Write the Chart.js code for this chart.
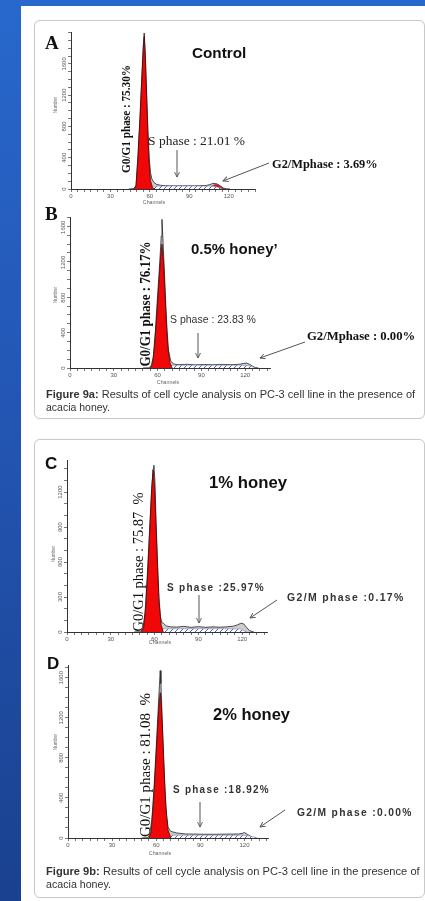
<!DOCTYPE html>
<html>
<head>
<meta charset="utf-8">
<script src="https://cdn.jsdelivr.net/npm/chart.js@4.4.1/dist/chart.umd.min.js"></script>
<style>
  html, body { margin: 0; padding: 0; }
  body {
    width: 425px; height: 901px; overflow: hidden; position: relative;
    background: linear-gradient(to bottom, #2868cc 0%, #2356b4 45%, #1a418f 100%);
    font-family: "Liberation Sans", Arial, sans-serif;
  }
  .sheet { position: absolute; left: 21px; top: 6px; right: 0; bottom: 0; background: #fff; }
  .card { position: absolute; left: 34px; width: 389px; border: 1px solid #c9c9c9; border-radius: 6px; box-shadow: 0 0 1px rgba(0,0,0,.15); }
  canvas { position: absolute; }
  svg { position: absolute; left: 0; top: 0; }
  .t { position: absolute; white-space: nowrap; line-height: 1; color: #111; transform-origin: 0 50%; }
  .t.rot { transform-origin: 50% 50%; }
  .serif { font-family: "Liberation Serif", "Times New Roman", serif; }
  .tiny { font-size: 6px; color: #666; }
  .cap { font-size: 10px; color: #333; }
  .sp { font-weight: bold; font-size: 10px; color: #333; letter-spacing: 1.3px; }
</style>
</head>
<body>
<div class="sheet"></div>
<div class="card" style="top:20px;height:397px"></div>
<div class="card" style="top:439px;height:457px"></div>

<canvas id="chA"></canvas>
<canvas id="chB"></canvas>
<canvas id="chC"></canvas>
<canvas id="chD"></canvas>

<svg width="425" height="901">
  <defs>
    <marker id="ah" viewBox="0 0 8 8" refX="7" refY="4" markerWidth="6" markerHeight="6" orient="auto">
      <path d="M0,0.5 L7,4 L0,7.5" fill="none" stroke="#555" stroke-width="1.2"/>
    </marker>
  </defs>
  <g stroke="#555" stroke-width="1">
    <line x1="177" y1="150" x2="177" y2="177" marker-end="url(#ah)"/>
    <line x1="269" y1="163" x2="223" y2="181" marker-end="url(#ah)"/>
    <line x1="198" y1="333" x2="198" y2="358" marker-end="url(#ah)"/>
    <line x1="305" y1="342" x2="260" y2="358" marker-end="url(#ah)"/>
    <line x1="199" y1="595" x2="199" y2="623" marker-end="url(#ah)"/>
    <line x1="277" y1="600" x2="250" y2="618" marker-end="url(#ah)"/>
    <line x1="200" y1="802" x2="200" y2="827" marker-end="url(#ah)"/>
    <line x1="285" y1="810" x2="260" y2="827" marker-end="url(#ah)"/>
  </g>
</svg>

<!-- Panel A -->
<div class="t serif" style="left:45px;top:42px;font-weight:bold;font-size:19px">A</div>
<div class="t" style="left:192px;top:52px;font-weight:bold;font-size:15px" data-w="54">Control</div>
<div class="t rot serif" style="left:125px;top:119px;font-weight:bold;font-size:13px" data-w="108">G0/G1 phase : 75.30%</div>
<div class="t serif" style="left:148px;top:141px;font-size:13.5px;color:#222" data-w="97">S phase : 21.01 %</div>
<div class="t serif" style="left:272px;top:164px;font-weight:bold;font-size:12.4px" data-w="106">G2/Mphase : 3.69%</div>
<div class="t rot tiny" style="left:55px;top:105px" data-w="16">Number</div>
<div class="t rot tiny" style="left:154px;top:202px" data-w="22" data-h="1">Channels</div>

<!-- Panel B -->
<div class="t serif" style="left:45px;top:213px;font-weight:bold;font-size:19px">B</div>
<div class="t" style="left:191px;top:248px;font-weight:bold;font-size:15px" data-w="87">0.5% honey’</div>
<div class="t rot serif" style="left:145px;top:304px;font-weight:bold;font-size:15px" data-w="125">G0/G1 phase : 76.17%</div>
<div class="t" style="left:170px;top:319px;font-size:10.5px;color:#333" data-w="86">S phase : 23.83 %</div>
<div class="t serif" style="left:307px;top:336px;font-weight:bold;font-size:12.7px" data-w="108">G2/Mphase : 0.00%</div>
<div class="t rot tiny" style="left:55px;top:295px" data-w="16">Number</div>
<div class="t rot tiny" style="left:168px;top:382px" data-w="22" data-h="1">Channels</div>
<div class="t cap" style="left:46px;top:395px" data-w="369"><b>Figure 9a:</b> Results of cell cycle analysis on PC-3 cell line in the presence of</div>
<div class="t cap" style="left:46px;top:408px" data-w="64">acacia honey.</div>

<!-- Panel C -->
<div class="t" style="left:45px;top:463px;font-weight:bold;font-size:17px">C</div>
<div class="t" style="left:209px;top:482px;font-weight:bold;font-size:16.5px" data-w="78">1% honey</div>
<div class="t rot serif" style="left:138px;top:562px;font-size:15.5px" data-w="139">G0/G1 phase : 75.87&nbsp;&nbsp;%</div>
<div class="t sp" style="left:167px;top:588px" data-w="98">S phase :25.97%</div>
<div class="t sp" style="left:287px;top:598px" data-w="118">G2/M phase :0.17%</div>
<div class="t rot tiny" style="left:53px;top:554px" data-w="16">Number</div>
<div class="t rot tiny" style="left:160px;top:642px" data-w="22" data-h="1">Channels</div>

<!-- Panel D -->
<div class="t" style="left:47px;top:663px;font-weight:bold;font-size:17px">D</div>
<div class="t" style="left:213px;top:714px;font-weight:bold;font-size:16.5px" data-w="77">2% honey</div>
<div class="t rot serif" style="left:145px;top:765px;font-size:15.5px" data-w="144">G0/G1 phase : 81.08&nbsp;&nbsp;%</div>
<div class="t sp" style="left:173px;top:790px" data-w="97">S phase :18.92%</div>
<div class="t sp" style="left:297px;top:813px" data-w="116">G2/M phase :0.00%</div>
<div class="t rot tiny" style="left:55px;top:742px" data-w="16">Number</div>
<div class="t rot tiny" style="left:160px;top:853px" data-w="22" data-h="1">Channels</div>
<div class="t cap" style="left:46px;top:872px" data-w="374"><b>Figure 9b:</b> Results of cell cycle analysis on PC-3 cell line in the presence of</div>
<div class="t cap" style="left:46px;top:885px" data-w="65">acacia honey.</div>

<script>
// ---- axis tick labels ----
const channelTickLabels = [0, 30, 60, 90, 120];
const countTickLabelsA = [0, 400, 800, 1200, 1600];
const countTickLabelsB = [0, 400, 800, 1200, 1600];
const countTickLabelsC = [0, 300, 600, 900, 1200];
const countTickLabelsD = [0, 400, 800, 1200, 1600];

// ---- A: Control ----
const totalChA = [44, 48, 49.5, 51, 52.5, 54, 55, 55.7, 56.5, 57.5, 58.5, 59.5, 60.5, 61.5, 63, 65, 68, 72, 78, 85, 92, 98, 103, 106, 108, 110, 112, 114, 116, 118, 121];
const totalA   = [0, 5, 50, 440, 930, 1480, 1830, 1995, 1740, 1250, 760, 400, 210, 130, 85, 60, 48, 42, 40, 41, 40, 42, 45, 58, 72, 70, 58, 35, 12, 3, 0];
const g1ChA = [48, 49.5, 51, 52.5, 54, 55, 55.7, 56.5, 57.5, 58.5, 59.5, 60.5, 62, 64];
const g1A   = [0, 40, 420, 900, 1450, 1800, 1950, 1700, 1200, 700, 320, 110, 20, 0];
const sChA = [55, 58, 62, 70, 80, 90, 100, 108, 112, 115];
const sA   = [0, 24, 34, 37, 38, 38, 37, 35, 22, 0];
const g2ChA = [104, 106, 108, 110, 112, 114, 116, 117];
const g2A   = [0, 18, 45, 62, 55, 30, 8, 0];

// ---- B: 0.5% honey ----
const totalChB = [50, 54, 55.5, 57, 58.5, 60, 61.5, 62.5, 63, 63.5, 64.5, 65.5, 66.5, 67.5, 69, 71, 74, 80, 86, 92, 98, 104, 110, 116, 119, 121, 123, 125, 127, 129];
const totalB   = [0, 2, 20, 120, 420, 820, 1200, 1500, 1690, 1520, 1150, 760, 420, 200, 80, 45, 38, 42, 36, 40, 37, 41, 38, 42, 52, 56, 42, 20, 5, 0];
const g1ChB = [55, 56.5, 58, 59.5, 61, 62, 63, 64, 65, 66, 67, 68.5, 70];
const g1B   = [0, 40, 260, 620, 1000, 1260, 1410, 1220, 880, 520, 240, 60, 0];
const sChB = [62, 66, 70, 80, 90, 100, 110, 118, 122, 125, 127];
const sB   = [0, 26, 31, 32, 31, 32, 31, 31, 28, 14, 0];

// ---- C: 1% honey ----
const totalChC = [46, 50, 52, 53.5, 55, 56.5, 58, 59, 59.5, 60.2, 61, 62, 63, 64, 65, 66, 68, 71, 75, 80, 85, 90, 95, 100, 105, 110, 114, 117, 119, 121, 123, 125, 128];
const totalC   = [0, 2, 25, 170, 480, 860, 1230, 1400, 1430, 1300, 950, 600, 300, 130, 80, 75, 52, 44, 42, 48, 40, 46, 40, 44, 41, 45, 50, 62, 75, 70, 40, 12, 0];
const g1ChC = [51, 52.5, 54, 55.5, 57, 58, 59, 60, 61, 62, 63, 64.5, 66];
const g1C   = [0, 40, 230, 560, 950, 1220, 1390, 1250, 900, 560, 260, 60, 0];
const sChC = [57, 62, 66, 75, 90, 105, 115, 119, 121, 123];
const sC   = [0, 22, 27, 28, 28, 28, 27, 25, 12, 0];

// ---- D: 2% honey ----
const totalChD = [50, 54, 55.5, 57, 58.5, 60, 61.3, 62.2, 62.7, 63.2, 64, 65, 66, 67, 68, 69.5, 71, 74, 80, 90, 100, 110, 116, 119, 120, 122, 125, 128];
const totalD   = [0, 3, 30, 180, 500, 900, 1280, 1530, 1670, 1540, 1200, 800, 460, 230, 110, 70, 62, 50, 40, 38, 37, 39, 40, 48, 55, 36, 10, 0];
const g1ChD = [55, 56.5, 58, 59.5, 61, 62, 62.7, 63.5, 64.5, 65.5, 66.5, 68, 70];
const g1D   = [0, 60, 330, 720, 1120, 1350, 1450, 1330, 1000, 640, 320, 80, 0];
const sChD = [60, 66, 70, 80, 90, 100, 110, 118, 122, 126, 129];
const sD   = [0, 22, 27, 28, 28, 28, 27, 27, 24, 12, 0];

// ---- plot frames (page pixels) and axis ranges ----
const frames = {
  A: { axisX: 71, axisTop: 30,  axisEnd: 255, axisBottom: 189, xMax: 140, yMax: 2000 },
  B: { axisX: 70, axisTop: 215, axisEnd: 270, axisBottom: 368, xMax: 137, yMax: 1710 },
  C: { axisX: 67, axisTop: 458, axisEnd: 267, axisBottom: 632, xMax: 137, yMax: 1470 },
  D: { axisX: 68, axisTop: 663, axisEnd: 268, axisBottom: 838, xMax: 136, yMax: 1720 }
};
const Y_AXIS_W = 24, PAD_TOP = 4, PAD_RIGHT = 4, X_AXIS_H = 16;

function pts(ch, v) { return ch.map((c, i) => ({ x: c, y: v[i] })); }

function hatchPattern() {
  const c = document.createElement('canvas');
  c.width = 5; c.height = 5;
  const g = c.getContext('2d');
  g.fillStyle = '#ffffff'; g.fillRect(0, 0, 5, 5);
  g.strokeStyle = '#4b5bc4'; g.lineWidth = 1;
  g.beginPath(); g.moveTo(-1, 6); g.lineTo(6, -1); g.stroke();
  return g.createPattern(c, 'repeat');
}
const hatch = hatchPattern();

// vertical (rotated) labels for the count axis
function countLabels(values) {
  return {
    id: 'countLabels',
    afterDraw(chart) {
      const s = chart.scales.y, ctx = chart.ctx;
      ctx.save();
      ctx.fillStyle = '#555';
      ctx.font = '6px "Liberation Sans", Arial, sans-serif';
      ctx.textAlign = 'center'; ctx.textBaseline = 'middle';
      values.forEach(v => {
        const y = s.getPixelForValue(v);
        ctx.save();
        ctx.translate(s.right - 7, y);
        ctx.rotate(-Math.PI / 2);
        ctx.fillText(String(v), 0, 0);
        ctx.restore();
      });
      ctx.restore();
    }
  };
}

function line(data, fillColor, borderColor, width, order) {
  return { data, showLine: true, fill: 'origin', backgroundColor: fillColor, borderColor,
           borderWidth: width, pointRadius: 0, tension: 0, order };
}

function histogram(id, key, series, yLabels) {
  const f = frames[key];
  const cv = document.getElementById(id);
  const left = f.axisX - Y_AXIS_W, top = f.axisTop - PAD_TOP;
  const w = f.axisEnd - left + PAD_RIGHT, h = f.axisBottom - top + X_AXIS_H;
  cv.width = w; cv.height = h;
  cv.style.left = left + 'px'; cv.style.top = top + 'px';
  cv.style.width = w + 'px'; cv.style.height = h + 'px';

  const datasets = [
    line(pts(series.totalCh, series.total), '#cdcdcd', '#222', 0.8, 4),
    line(pts(series.sCh, series.s), hatch, '#8a90b0', 0.6, 2),
    line(pts(series.g1Ch, series.g1), '#f00808', '#3a0000', 0.7, 1)
  ];
  if (series.g2Ch) datasets.push(line(pts(series.g2Ch, series.g2), '#e01010', '#555', 0.6, 3));

  const tickFont = { size: 6, family: '"Liberation Sans", Arial, sans-serif' };
  new Chart(cv, {
    type: 'scatter',
    data: { datasets },
    options: {
      responsive: false, animation: false, devicePixelRatio: 1,
      layout: { padding: { top: PAD_TOP, right: PAD_RIGHT, left: 0, bottom: 0 } },
      plugins: { legend: { display: false }, tooltip: { enabled: false } },
      scales: {
        x: {
          type: 'linear', min: 0, max: f.xMax,
          afterFit(s) { s.height = X_AXIS_H; },
          border: { color: '#333', width: 1 },
          grid: { drawOnChartArea: false, tickLength: 3, color: '#555', lineWidth: 0.8 },
          ticks: { stepSize: 5, autoSkip: false, maxRotation: 0, minRotation: 0, includeBounds: false,
                   padding: 1, color: '#555', font: tickFont,
                   callback: v => channelTickLabels.includes(v) ? String(v) : '' }
        },
        y: {
          type: 'linear', min: 0, max: f.yMax,
          afterFit(s) { s.width = Y_AXIS_W; },
          border: { color: '#333', width: 1 },
          grid: { drawOnChartArea: false, tickLength: 3, color: '#555', lineWidth: 0.8 },
          ticks: { stepSize: 100, maxTicksLimit: 100, includeBounds: false, autoSkip: false,
                   font: tickFont, callback: () => '' }
        }
      }
    },
    plugins: [countLabels(yLabels)]
  });
}

histogram('chA', 'A', { totalCh: totalChA, total: totalA, g1Ch: g1ChA, g1: g1A, sCh: sChA, s: sA, g2Ch: g2ChA, g2: g2A }, countTickLabelsA);
histogram('chB', 'B', { totalCh: totalChB, total: totalB, g1Ch: g1ChB, g1: g1B, sCh: sChB, s: sB }, countTickLabelsB);
histogram('chC', 'C', { totalCh: totalChC, total: totalC, g1Ch: g1ChC, g1: g1C, sCh: sChC, s: sC }, countTickLabelsC);
histogram('chD', 'D', { totalCh: totalChD, total: totalD, g1Ch: g1ChD, g1: g1D, sCh: sChD, s: sD }, countTickLabelsD);

// fit text runs to their widths; rotated labels are centred on their anchor
document.querySelectorAll('.t').forEach(el => {
  const target = +el.dataset.w;
  const s = target ? target / el.offsetWidth : 1;
  if (el.dataset.h) {
    el.style.transformOrigin = '50% 50%';
    el.style.transform = `translate(-50%,-50%) scaleX(${s})`;
  } else if (el.classList.contains('rot')) {
    el.style.transform = `translate(-50%,-50%) rotate(-90deg) scaleX(${s})`;
  } else {
    el.style.transform = `translateY(-50%) scaleX(${s})`;
  }
});
</script>
</body>
</html>
